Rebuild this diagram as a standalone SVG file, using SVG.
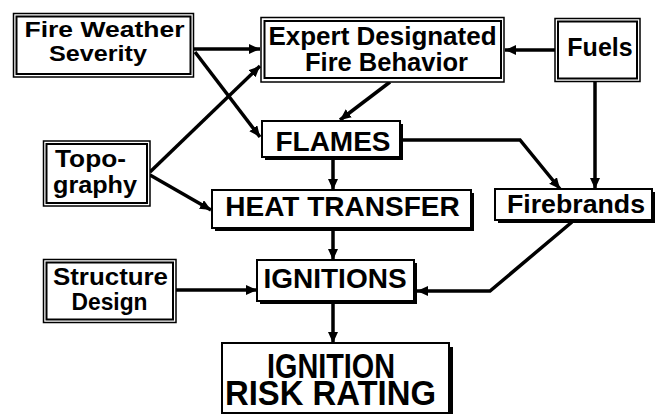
<svg xmlns="http://www.w3.org/2000/svg" width="658" height="414" viewBox="0 0 658 414">
<defs>
<marker id="ah" markerUnits="userSpaceOnUse" markerWidth="12" markerHeight="11" refX="11" refY="5" orient="auto">
<path d="M0,0 L11,5 L0,10 z" fill="#000"/>
</marker>
</defs>
<style>
.o{fill:#fff;stroke:#000;stroke-width:1.5}
.i{fill:none;stroke:#000;stroke-width:2}
.b{fill:#fff;stroke:#000;stroke-width:2}
.sh{fill:#000}
.t{font-family:"Liberation Sans",Arial,sans-serif;font-weight:bold;fill:#000;text-anchor:middle}
.s{font-size:24px}
.m{font-size:28px}
.c{fill:none;stroke:#000;stroke-width:3.5;marker-end:url(#ah)}
</style>
<rect width="658" height="414" fill="#fff"/>
<g id="connectors">
<path class="c" d="M194,49 L260,49"/>
<path class="c" d="M195,52 L260,137"/>
<path class="c" d="M150,172 L260,66"/>
<path class="c" d="M150,175 L211,210"/>
<path class="c" d="M390,82 L340,120"/>
<path class="c" d="M555,50 L505,50"/>
<path class="c" d="M595,82 L595,189"/>
<path class="c" d="M401,140 L520,140 L560,189"/>
<path class="c" d="M333,160 L333,190"/>
<path class="c" d="M333,231 L333,260"/>
<path class="c" d="M176,290 L257,290"/>
<path class="c" d="M572,222 L490,291 L417,291"/>
<path class="c" d="M333,304 L333,343"/>
</g>
<g id="fire-weather">
<rect class="o" x="13.5" y="13.5" width="180" height="63.5"/>
<rect class="i" x="16.5" y="16.5" width="174" height="57.5"/>
<text class="t" style="font-size:22px" x="104.5" y="37" textLength="160" lengthAdjust="spacingAndGlyphs">Fire Weather</text>
<text class="t" style="font-size:22px" x="98" y="61" textLength="98" lengthAdjust="spacingAndGlyphs">Severity</text>
</g>
<g id="expert">
<rect class="o" x="261" y="17.5" width="243" height="64.5"/>
<rect class="i" x="264.5" y="21" width="236.5" height="57"/>
<text class="t" style="font-size:25px" x="382.5" y="45" textLength="228" lengthAdjust="spacingAndGlyphs">Expert Designated</text>
<text class="t" style="font-size:25px" x="386.5" y="71" textLength="163" lengthAdjust="spacingAndGlyphs">Fire Behavior</text>
</g>
<g id="fuels">
<rect class="o" x="555" y="18.5" width="85" height="63"/>
<rect class="i" x="558" y="21.5" width="79" height="57"/>
<text class="t" style="font-size:25px" x="600" y="56">Fuels</text>
</g>
<g id="topography">
<rect class="o" x="43.5" y="141" width="106.5" height="65"/>
<rect class="i" x="46.5" y="144" width="100.5" height="59"/>
<text class="t s" style="text-anchor:start" x="55" y="167" textLength="71" lengthAdjust="spacingAndGlyphs">Topo-</text>
<text class="t s" style="text-anchor:start" x="53" y="193" textLength="84" lengthAdjust="spacingAndGlyphs">graphy</text>
</g>
<g id="structure">
<rect class="o" x="43.5" y="259.5" width="132.5" height="63"/>
<rect class="i" x="46.5" y="262.5" width="126.5" height="57"/>
<text class="t s" x="110.5" y="285" textLength="115" lengthAdjust="spacingAndGlyphs">Structure</text>
<text class="t s" x="109.5" y="310" textLength="76" lengthAdjust="spacingAndGlyphs">Design</text>
</g>
<g id="flames">
<rect class="sh" x="265" y="124" width="138" height="36"/>
<rect class="b" x="262" y="121" width="138" height="36"/>
<text class="t m" x="333" y="151">FLAMES</text>
</g>
<g id="heat-transfer">
<rect class="sh" x="215" y="193" width="259" height="38"/>
<rect class="b" x="212" y="190" width="259" height="38"/>
<text class="t m" x="342.5" y="216">HEAT TRANSFER</text>
</g>
<g id="firebrands">
<rect class="sh" x="498" y="192" width="157" height="31"/>
<rect class="b" x="495" y="189" width="157" height="31"/>
<text class="t" style="font-size:25px" x="576" y="213" textLength="138" lengthAdjust="spacingAndGlyphs">Firebrands</text>
</g>
<g id="ignitions">
<rect class="sh" x="260" y="263" width="157" height="41"/>
<rect class="b" x="257" y="260" width="157" height="41"/>
<text class="t m" x="335" y="288">IGNITIONS</text>
</g>
<g id="risk-rating">
<rect class="sh" x="226" y="347" width="227" height="70"/>
<rect class="b" x="222" y="343" width="227" height="70"/>
<text class="t" style="font-size:35px" x="331" y="378" textLength="128" lengthAdjust="spacingAndGlyphs">IGNITION</text>
<text class="t" style="font-size:35px" x="330.5" y="405" textLength="211" lengthAdjust="spacingAndGlyphs">RISK RATING</text>
</g>
</svg>
